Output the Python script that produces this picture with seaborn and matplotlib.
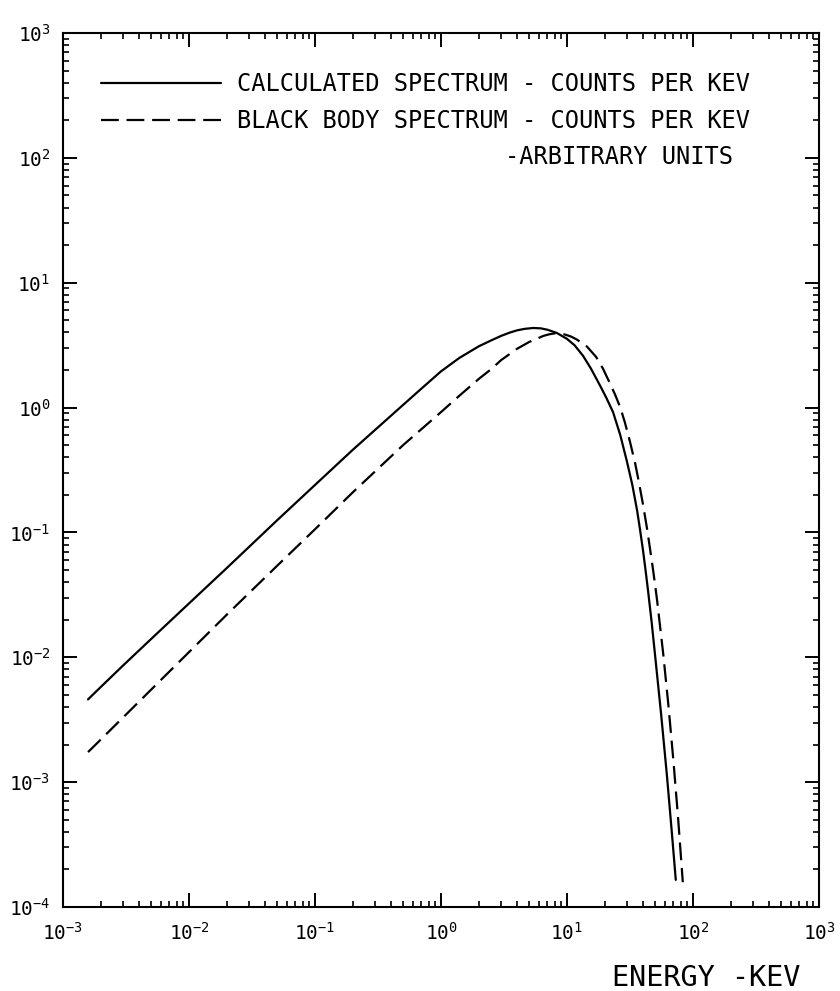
import numpy as np
import pandas as pd
import matplotlib
matplotlib.use("Agg")
import matplotlib.pyplot as plt
import seaborn as sns
from matplotlib.ticker import FuncFormatter, LogLocator, NullFormatter

# Calculated spectrum (counts per keV)
energy_calc = [0.00158, 0.002, 0.003, 0.005, 0.01, 0.02, 0.05, 0.1, 0.2, 0.5,
               0.7, 1.0, 1.4, 2.0, 2.5, 3.0, 3.5, 4.0, 4.6, 5.4,
               6.2, 7.0, 8.3, 10.0, 11.5, 13.4, 15.5, 18.3, 20.5, 23.2,
               26.5, 29.9, 33.0, 36.0, 38.0, 40.1, 42.0, 44.0, 47.0, 50.0,
               56.0, 62.0, 68.0, 73.0]
counts_calc = [0.0046, 0.0058, 0.0086, 0.014, 0.027, 0.052, 0.125, 0.24, 0.46, 1.05,
               1.42, 1.95, 2.5, 3.1, 3.45, 3.75, 3.98, 4.15, 4.27, 4.34,
               4.31, 4.2, 3.96, 3.55, 3.15, 2.6, 2.05, 1.5, 1.2, 0.92,
               0.60, 0.37, 0.24, 0.15, 0.105, 0.072, 0.05, 0.034, 0.019, 0.0104,
               0.0034, 0.00115, 0.00039, 0.000165]

# Black body spectrum (counts per keV, arbitrary units)
energy_bb = [0.00158, 0.002, 0.003, 0.005, 0.01, 0.02, 0.05, 0.1, 0.2, 0.5,
             1.0, 1.4, 2.0, 2.5, 3.0, 4.0, 5.0, 6.5, 7.2, 8.0,
             9.6, 10.8, 12.0, 14.4, 17.0, 19.3, 22.0, 24.0, 26.5, 28.8,
             31.5, 34.7, 37.0, 40.0, 43.0, 45.6, 48.5, 51.8, 58.0, 64.0,
             70.0, 76.0, 83.0]
counts_bb = [0.00174, 0.0022, 0.0033, 0.0055, 0.011, 0.022, 0.054, 0.106, 0.21, 0.50,
             0.92, 1.245, 1.70, 2.03, 2.40, 2.95, 3.35, 3.75, 3.86, 3.93,
             3.85, 3.70, 3.50, 3.08, 2.55, 2.05, 1.55, 1.28, 1.00, 0.76,
             0.54, 0.36, 0.26, 0.17, 0.11, 0.074, 0.048, 0.029, 0.0107, 0.0040,
             0.00146, 0.00053, 0.000158]

legend_labels = ["CALCULATED SPECTRUM - COUNTS PER KEV",
                 "BLACK BODY SPECTRUM - COUNTS PER KEV"]
legend_note = "-ARBITRARY UNITS"
x_label = "ENERGY -KEV"
x_limits = (1e-3, 1e3)
y_limits = (1e-4, 1e3)

sns.set_style("ticks")
plt.rcParams["font.family"] = ["DejaVu Sans Mono", "DejaVu Sans"]
plt.rcParams["text.color"] = "black"
plt.rcParams["axes.labelcolor"] = "black"
plt.rcParams["axes.linewidth"] = 1.5

fig = plt.figure(figsize=(8.4, 9.91), dpi=100)
fig.patch.set_facecolor("white")
ax = fig.add_axes([63 / 840, 1 - 907 / 991, 756 / 840, 874 / 991])
ax.set_xscale("log")
ax.set_yscale("log")

calc = pd.DataFrame({"energy": energy_calc, "counts": counts_calc})
bb = pd.DataFrame({"energy": energy_bb, "counts": counts_bb})

sns.lineplot(data=calc, x="energy", y="counts", ax=ax, color="black",
             lw=1.6, sort=False, estimator=None, label=legend_labels[0])
sns.lineplot(data=bb, x="energy", y="counts", ax=ax, color="black",
             lw=1.6, sort=False, estimator=None, linestyle=(0, (8, 3.5)),
             label=legend_labels[1])

ax.set_xlim(*x_limits)
ax.set_ylim(*y_limits)


def decade_label(v, pos):
    e = int(round(np.log10(v)))
    return r"$\mathregular{10^{%d}}$" % e


for axis in (ax.xaxis, ax.yaxis):
    axis.set_major_locator(LogLocator(base=10, numticks=20))
    axis.set_minor_locator(LogLocator(base=10, subs=np.arange(2, 10), numticks=200))
    axis.set_major_formatter(FuncFormatter(decade_label))
    axis.set_minor_formatter(NullFormatter())

ax.tick_params(which="both", direction="in", top=True, right=True,
               color="black", labelcolor="black")
ax.tick_params(which="major", length=10, width=1.4, labelsize=14)
ax.tick_params(which="minor", length=4.5, width=1.2)
ax.tick_params(axis="x", which="major", pad=11)
ax.tick_params(axis="y", which="major", pad=9)

for sp in ax.spines.values():
    sp.set_visible(True)
    sp.set_color("black")
    sp.set_linewidth(1.5)

leg = ax.legend(loc="upper left", bbox_to_anchor=(0.050, 0.955), frameon=False,
                fontsize=17, handlelength=5.1, handletextpad=0.68,
                labelspacing=0.55, borderpad=0, borderaxespad=0)
for t in leg.get_texts():
    t.set_color("black")
ax.text(0.585, 0.858, legend_note, transform=ax.transAxes, fontsize=17,
        ha="left", va="center", color="black")

ax.set_xlabel(x_label, fontsize=20.5, loc="right", color="black", va="top")
ax.xaxis.set_label_coords(0.975, -0.0655)
ax.yaxis.label.set_visible(False)

fig.savefig("out.png", dpi=100, facecolor="white")
